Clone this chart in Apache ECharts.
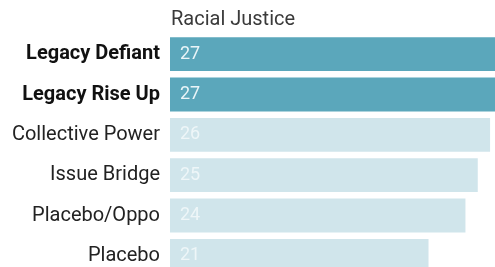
<!DOCTYPE html>
<html>
<head>
<meta charset="utf-8">
<script src="https://cdn.jsdelivr.net/npm/echarts@6/dist/echarts.min.js"></script>
<style>
  html, body { margin: 0; padding: 0; background: #fff; overflow: hidden; }
  /* the last bar runs off the bottom edge in the picture, so the chart is a bit taller than the window */
  #main { width: 495px; height: 276px; }
</style>
</head>
<body>
<div id="main"></div>
<script>
// data
var categories = ['Legacy Defiant', 'Legacy Rise Up', 'Collective Power', 'Issue Bridge', 'Placebo/Oppo', 'Placebo'];
var values = [27, 27, 26, 25, 24, 21];
var highlighted = [true, true, false, false, false, false];
var titleText = 'Racial Justice';

var darkBar = '#5ba7bb';
var lightBar = '#d0e5eb';

var chart = echarts.init(document.getElementById('main'));

var option = {
  animation: false,
  title: {
    text: titleText,
    left: 166,
    top: 5,
    textStyle: { fontFamily: 'Roboto', fontSize: 20, fontWeight: 'normal', color: '#3a3a3a' }
  },
  grid: { left: 170, right: 0, top: 34, bottom: 0, containLabel: false },
  xAxis: {
    type: 'value',
    min: 0,
    max: 26.4, // top bars run past the right edge
    show: false
  },
  yAxis: {
    type: 'category',
    inverse: true,
    data: categories,
    axisLine: { show: false },
    axisTick: { show: false },
    axisLabel: {
      margin: 10,
      fontFamily: 'Roboto',
      fontSize: 20,
      color: '#222',
      formatter: function (v, i) {
        return highlighted[i] ? '{b|' + v + '}' : v;
      },
      rich: {
        b: { fontFamily: 'Roboto', fontSize: 20, fontWeight: 'bold', color: '#111' }
      }
    }
  },
  series: [{
    type: 'bar',
    clip: true,
    barCategoryGap: '16%',
    data: values.map(function (v, i) {
      return {
        value: v,
        itemStyle: { color: highlighted[i] ? darkBar : lightBar },
        label: { color: highlighted[i] ? '#eaf5f8' : '#eef6f8' }
      };
    }),
    label: {
      show: true,
      position: 'insideLeft',
      distance: 10,
      fontFamily: 'Roboto',
      fontSize: 18
    }
  }]
};

chart.setOption(option);
</script>
</body>
</html>
